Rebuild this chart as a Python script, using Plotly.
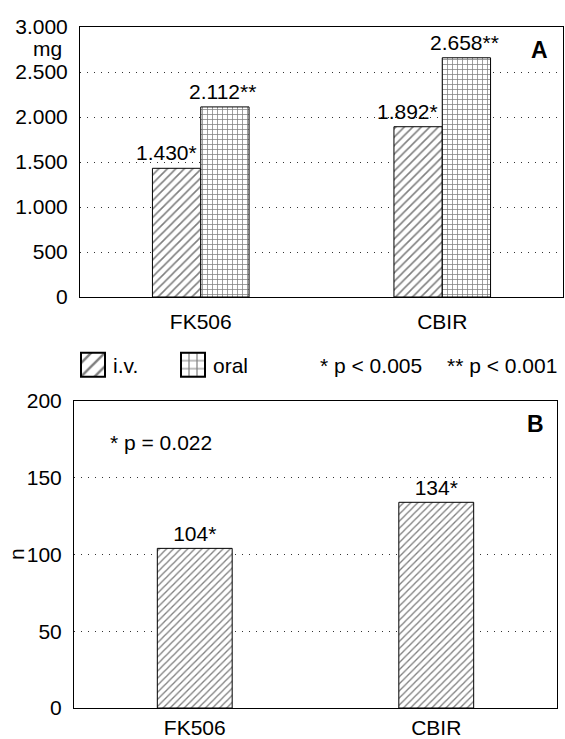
import plotly.graph_objects as go

W, H = 565, 739

categories = ["FK506", "CBIR"]
dose_iv = [1430, 1892]
dose_oral = [2112, 2658]
count_iv = [104, 134]

yticks_a = [0, 500, 1000, 1500, 2000, 2500, 3000]
yticktext_a = ["0", "500", "1.000", "1.500", "2.000", "2.500", "3.000"]
yticks_b = [0, 50, 100, 150, 200]
yticktext_b = ["0", "50", "100", "150", "200"]

FONT = "Liberation Sans, Arial, Helvetica, sans-serif"
FS = 21


def px_x(p):
    return p / W


def px_y(p):
    return 1 - p / H


def fmt(v):
    return f"{v:,}".replace(",", ".")


fig = go.Figure()

fig.add_trace(go.Bar(
    x=categories, y=dose_iv, name="i.v.", xaxis="x", yaxis="y",
    marker=dict(color="white", line=dict(color="black", width=1),
                pattern=dict(shape="/", size=6, solidity=0.26, fgcolor="black", bgcolor="white")),
))
fig.add_trace(go.Bar(
    x=categories, y=dose_oral, name="oral", xaxis="x", yaxis="y",
    marker=dict(color="white", line=dict(color="black", width=1),
                pattern=dict(shape="+", size=5, solidity=0.28, fgcolor="black", bgcolor="white")),
))
fig.add_trace(go.Bar(
    x=categories, y=count_iv, name="i.v.", xaxis="x2", yaxis="y2", showlegend=False,
    width=0.31,
    marker=dict(color="white", line=dict(color="black", width=1),
                pattern=dict(shape="/", size=5, solidity=0.26, fgcolor="black", bgcolor="white")),
    texttemplate="%{y}*", textposition="outside", constraintext="none",
    cliponaxis=False, textfont=dict(size=FS, color="black", family=FONT),
))

axis_common = dict(showline=True, mirror=True, linecolor="black", linewidth=1,
                   zeroline=False, automargin=False,
                   tickfont=dict(size=FS, color="black", family=FONT))

fig.update_layout(
    width=W, height=H,
    margin=dict(l=0, r=0, t=0, b=0),
    paper_bgcolor="white", plot_bgcolor="white",
    separators=",.",
    font=dict(family=FONT, size=FS, color="black"),
    barmode="group", bargap=0.6, bargroupgap=0,
    xaxis=dict(domain=[px_x(80), px_x(563)], anchor="y", showgrid=False,
               ticks="", ticklabelstandoff=6, **axis_common),
    yaxis=dict(domain=[px_y(297), px_y(27)], anchor="x", range=[0, 3000],
               tickvals=yticks_a, ticktext=yticktext_a,
               showgrid=True, gridcolor="#333", gridwidth=1, griddash="1px,6px",
               ticks="", ticklabelstandoff=7, **axis_common),
    xaxis2=dict(domain=[px_x(74), px_x(557)], anchor="y2", showgrid=False,
                ticks="", ticklabelstandoff=1, **axis_common),
    yaxis2=dict(domain=[px_y(708), px_y(401)], anchor="x2", range=[0, 200],
                tickvals=yticks_b, ticktext=yticktext_b,
                showgrid=True, gridcolor="#333", gridwidth=1, griddash="1px,6px",
                ticks="", ticklabelstandoff=7, **axis_common),
    legend=dict(orientation="h", x=px_x(73), y=px_y(365), xanchor="left", yanchor="middle",
                font=dict(size=FS, color="black", family=FONT),
                entrywidth=55, entrywidthmode="pixels", bgcolor="rgba(0,0,0,0)",
                traceorder="normal"),
    showlegend=True,
)

annotations = [
    dict(text="<b>A</b>", x=px_x(539), y=px_y(50), font=dict(size=23)),
    dict(text="<b>B</b>", x=px_x(535), y=px_y(424), font=dict(size=23)),
    dict(text="mg", x=px_x(47), y=px_y(48), font=dict(size=FS)),
    dict(text="n", x=px_x(16), y=px_y(554), font=dict(size=FS), textangle=-90),
    dict(text="* p &lt; 0.005", x=px_x(318), y=px_y(365), xanchor="left", font=dict(size=FS)),
    dict(text="** p &lt; 0.001", x=px_x(445), y=px_y(365), xanchor="left", font=dict(size=FS)),
    dict(text="* p = 0.022", x=px_x(108), y=px_y(442), xanchor="left", font=dict(size=FS)),
]
for a in annotations:
    a.setdefault("xanchor", "center")
    a.update(xref="paper", yref="paper", showarrow=False, yanchor="middle")
    a["font"].update(color="black", family=FONT)

# value labels for panel A bars, placed at the data values on the library's axes
for cat, v in zip(categories, dose_iv):
    annotations.append(dict(text=fmt(v) + "*", x=cat, y=v, xref="x", yref="y",
                            xanchor="right", yanchor="bottom", xshift=-2, yshift=2,
                            showarrow=False, font=dict(size=FS, color="black", family=FONT)))
for cat, v in zip(categories, dose_oral):
    annotations.append(dict(text=fmt(v) + "**", x=cat, y=v, xref="x", yref="y",
                            xanchor="center", yanchor="bottom", xshift=22, yshift=2,
                            showarrow=False, font=dict(size=FS, color="black", family=FONT)))

fig.update_layout(annotations=annotations)

post = (
    "document.body.style.margin='0';document.body.style.overflow='hidden';"
    "var gd=document.getElementById('{plot_id}');"
    "function fixLegend(){gd.querySelectorAll('.legend .legendpoints path').forEach(function(p){"
    "if(!p.getAttribute('data-scaled')){var t=p.getAttribute('transform')||'';"
    "p.setAttribute('transform',t+' scale(2)');p.setAttribute('data-scaled','1');}});}"
    "fixLegend();gd.on('plotly_afterplot',fixLegend);"
)

fig.write_html("out.html", post_script=post, config={"displayModeBar": False})
